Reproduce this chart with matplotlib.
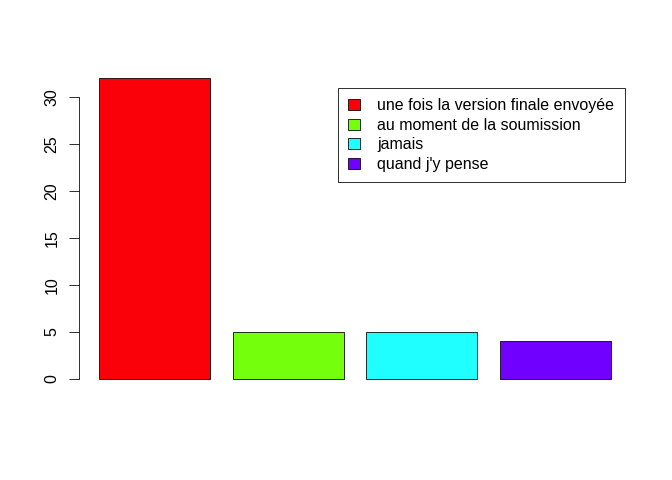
import matplotlib
matplotlib.use("Agg")
import matplotlib.pyplot as plt
from matplotlib.patches import Patch

categories = ["une fois la version finale envoyée", "au moment de la soumission",
              "jamais", "quand j'y pense"]
counts = [32, 5, 5, 4]
bar_colors = ["#FA0008", "#74FF0C", "#1FFFFF", "#7000FF"]
yticks = [0, 5, 10, 15, 20, 25, 30]

plt.rcParams['font.family'] = ['Liberation Sans', 'DejaVu Sans']

# R-like barplot: width 1, space 0.2
fig = plt.figure(figsize=(672 / 72, 480 / 72), dpi=72)
ax = fig.add_axes([78.5 / 672, 89 / 480, 553 / 672, 325 / 480])

xs = [0.2 + 1.2 * i + 0.5 for i in range(len(counts))]
ax.bar(xs, counts, width=1.0, color=bar_colors, edgecolor="black", linewidth=0.8)

ax.set_xlim(0.016, 4.984)
ax.set_ylim(-1.28, 33.28)
for side in ["top", "right", "bottom"]:
    ax.spines[side].set_visible(False)
ax.spines["left"].set_bounds(0, 30)
ax.spines["left"].set_linewidth(0.8)
ax.set_xticks([])
ax.set_yticks(yticks)
ax.set_yticklabels([str(t) for t in yticks], rotation=90, va="center", fontsize=16)
ax.tick_params(axis="y", length=10, width=0.8, pad=9)

handles = [Patch(facecolor=c, edgecolor="black", linewidth=0.8) for c in bar_colors]
leg = fig.legend(handles, categories, loc="upper left",
                 bbox_to_anchor=(338 / 672, 1 - 88 / 480), borderaxespad=0,
                 fontsize=16, handlelength=0.7, handleheight=0.7,
                 handletextpad=1.1, labelspacing=0.28, borderpad=0.65,
                 fancybox=False, framealpha=1, edgecolor="black")
leg.get_frame().set_linewidth(0.8)

fig.savefig("out.png", dpi=72, facecolor="white")
